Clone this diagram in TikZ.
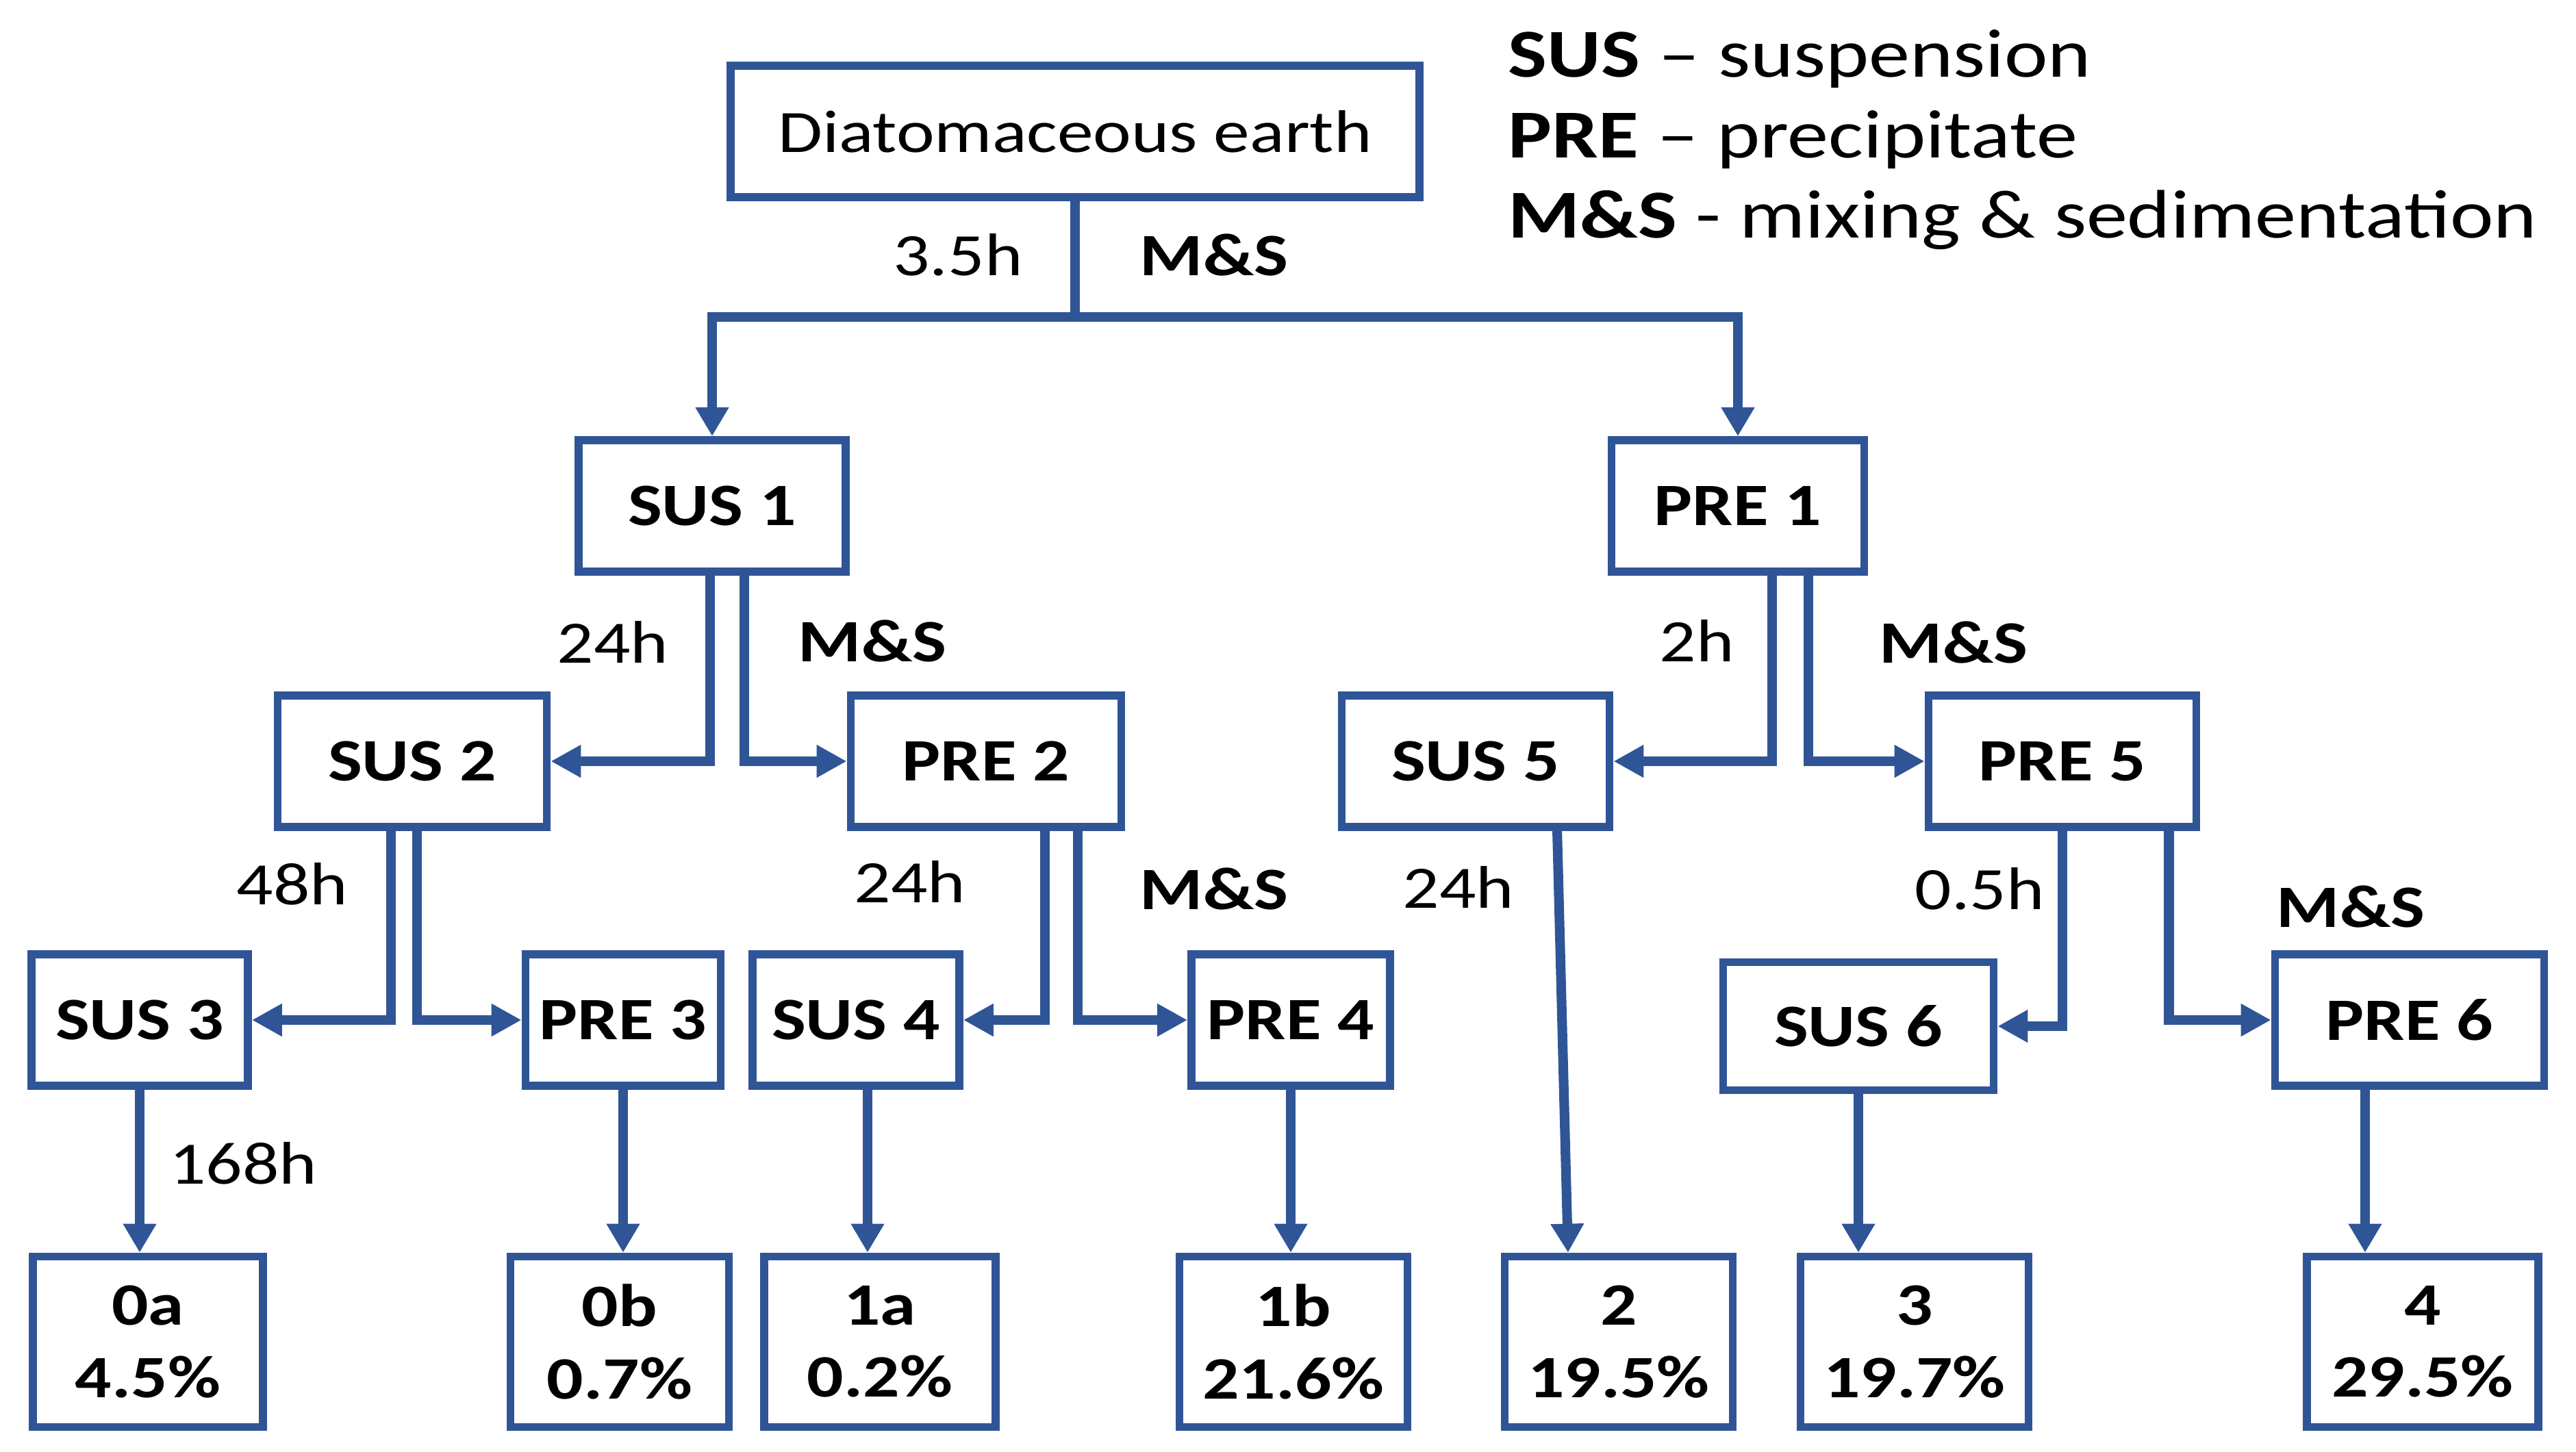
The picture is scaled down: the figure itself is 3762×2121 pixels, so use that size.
\documentclass[tikz,border=0pt]{standalone}
\usepackage{fontspec}
\setmainfont{Carlito}[FakeStretch=1.2]
\usetikzlibrary{arrows.meta}
\definecolor{flowblue}{RGB}{47,85,151}

\begin{document}
\begin{tikzpicture}[x=0.01cm, y=-0.01cm,
  box/.style={draw=flowblue, line width=3.3pt, inner sep=0pt, align=center,
    font=\fontsize{25}{30}\selectfont\bfseries},
  stage/.style={box, minimum height=1.92cm},
  result/.style={box, minimum height=2.49cm},
  lbl/.style={inner sep=0pt, font=\fontsize{25}{30}\selectfont},
  mslbl/.style={inner sep=0pt, font=\fontsize{25}{30}\selectfont\bfseries},
  legend/.style={inner sep=0pt, anchor=west, font=\fontsize{28.5}{32}\selectfont},
  link/.style={draw=flowblue, line width=4.2pt, -{Triangle[width=0.45cm,length=0.44cm]}},
  trunk/.style={draw=flowblue, line width=4pt},
  drop/.style={trunk, -{Triangle[width=0.46cm,length=0.42cm]}}]
  \useasboundingbox (0,0) rectangle (3762,2121);

  % start and legend
  \node[box, font=\fontsize{25}{30}\selectfont, minimum width=10.05cm, minimum height=1.92cm] (diat) at (1570,192) {Diatomaceous earth};
  \node[legend] (legsus) at (2202,86) {\textbf{SUS} -- suspension};
  \node[legend] (legpre) at (2202,204) {\textbf{PRE} -- precipitate};
  \node[legend] (legms) at (2202,321) {\textbf{M\&S} - mixing \& sedimentation};

  % stages
  \node[stage, minimum width=3.90cm] (sus1) at (1040,739) {SUS 1};
  \node[stage, minimum width=3.69cm] (pre1) at (2538,739) {PRE 1};
  \node[stage, minimum width=3.93cm] (sus2) at (602,1112) {SUS 2};
  \node[stage, minimum width=3.95cm] (pre2) at (1440,1112) {PRE 2};
  \node[stage, minimum width=3.91cm] (sus5) at (2155,1112) {SUS 5};
  \node[stage, minimum width=3.91cm] (pre5) at (3012,1112) {PRE 5};
  \node[stage, minimum width=3.16cm] (sus3) at (204,1490) {SUS 3};
  \node[stage, minimum width=2.85cm] (pre3) at (910,1490) {PRE 3};
  \node[stage, minimum width=3.02cm] (sus4) at (1250,1490) {SUS 4};
  \node[stage, minimum width=2.90cm] (pre4) at (1885,1490) {PRE 4};
  \node[stage, minimum width=3.95cm, minimum height=1.87cm] (sus6) at (2714,1499) {SUS 6};
  \node[stage, minimum width=3.93cm] (pre6) at (3519,1490) {PRE 6};

  % fractions
  \node[result, minimum width=3.36cm] (r0a) at (216,1960) {0a\\4.5\%};
  \node[result, minimum width=3.19cm] (r0b) at (905,1960) {0b\\0.7\%};
  \node[result, minimum width=3.38cm] (r1a) at (1285,1960) {1a\\0.2\%};
  \node[result, minimum width=3.33cm] (r1b) at (1889,1960) {1b\\21.6\%};
  \node[result, minimum width=3.33cm] (r2) at (2364,1960) {2\\19.5\%};
  \node[result, minimum width=3.33cm] (r3) at (2796,1960) {3\\19.7\%};
  \node[result, minimum width=3.38cm] (r4) at (3538,1960) {4\\29.5\%};

  % times
  \node[lbl] (t0) at (1399,372) {3.5h};
  \node[mslbl] (m0) at (1773,372) {M\&S};
  \node[lbl] (t1) at (895,938) {24h};
  \node[mslbl] (m1) at (1274,936) {M\&S};
  \node[lbl] (t2) at (2478,936) {2h};
  \node[mslbl] (m2) at (2853,938) {M\&S};
  \node[lbl] (t3) at (427,1291) {48h};
  \node[lbl] (t4) at (1329,1288) {24h};
  \node[mslbl] (m4) at (1773,1298) {M\&S};
  \node[lbl] (t5) at (2130,1296) {24h};
  \node[lbl] (t6) at (2891,1298) {0.5h};
  \node[mslbl] (m6) at (3433,1324) {M\&S};
  \node[lbl] (t7) at (355,1699) {168h};

  \coordinate (split) at (diat.south |- 0,463);
  \draw[trunk] (diat.south) -- (split);
  \draw[drop] (split) -| (sus1.north);
  \draw[drop] (split) -| (pre1.north);

  \draw[link] ([xshift=-0.03cm]sus1.south) |- (sus2.east);
  \draw[link] ([xshift=0.47cm]sus1.south) |- (pre2.west);
  \draw[link] ([xshift=0.50cm]pre1.south) |- (sus5.east);
  \draw[link] ([xshift=1.03cm]pre1.south) |- (pre5.west);
  \draw[link] ([xshift=-0.31cm]sus2.south) |- (sus3.east);
  \draw[link] ([xshift=0.07cm]sus2.south) |- (pre3.west);
  \draw[link] ([xshift=0.86cm]pre2.south) |- (sus4.east);
  \draw[link] ([xshift=1.34cm]pre2.south) |- (pre4.west);
  \draw[link] (pre5.south) |- (sus6.east);
  \draw[link] ([xshift=1.55cm]pre5.south) |- (pre6.west);

  \draw[drop] (sus3.south) -- (sus3.south |- r0a.north);
  \draw[drop] (pre3.south) -- (pre3.south |- r0b.north);
  \draw[drop] ([xshift=0.17cm]sus4.south) -- ([xshift=0.17cm]sus4.south |- r1a.north);
  \draw[drop] (pre4.south) -- (pre4.south |- r1b.north);
  \draw[drop] ([xshift=1.19cm]sus5.south) -- ([xshift=-0.74cm]r2.north);
  \draw[drop] (sus6.south) -- (sus6.south |- r3.north);
  \draw[drop] ([xshift=-0.65cm]pre6.south) -- ([xshift=-0.65cm]pre6.south |- r4.north);
\end{tikzpicture}
\end{document}
